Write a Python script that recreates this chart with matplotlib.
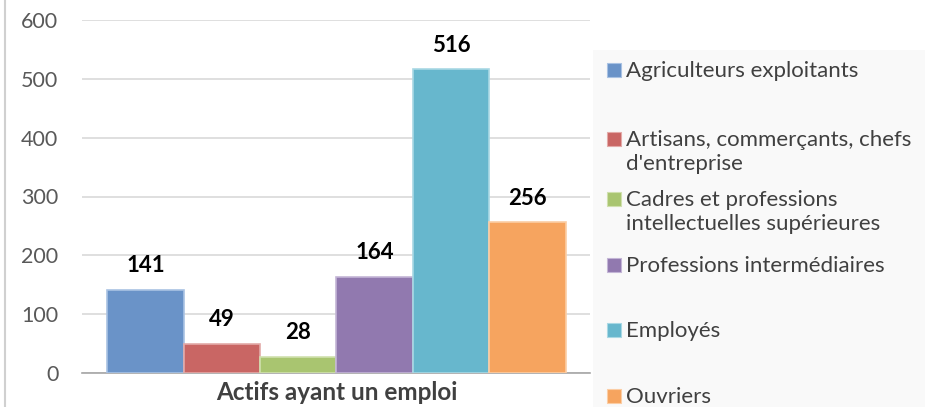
import matplotlib.pyplot as plt
from matplotlib.patches import Rectangle

plt.rcParams['font.family'] = ['Lato', 'DejaVu Sans']

# data
categories = ['Agriculteurs exploitants',
              'Artisans, commerçants, chefs\nd\'entreprise',
              'Cadres et professions\nintellectuelles supérieures',
              'Professions intermédiaires',
              'Employés',
              'Ouvriers']
values = [141, 49, 28, 164, 516, 256]
group_label = 'Actifs ayant un emploi'
yticks = [0, 100, 200, 300, 400, 500, 600]

colors = ['#6a93c8', '#c96664', '#a9c570', '#9179af', '#67b7cd', '#f6a45f']
edges = ['#a9c2e3', '#e3aaa8', '#d0e0ae', '#c3b5d6', '#a9d8e4', '#fbcda4']

W, H = 935, 407
fig = plt.figure(figsize=(W / 100, H / 100), dpi=100)

# axes placed in pixel terms
x0, x1, y0, y1 = 82, 590, 373, 20
ax = fig.add_axes([x0 / W, 1 - y0 / H, (x1 - x0) / W, (y0 - y1) / H])

xs = list(range(len(values)))
ax.bar(xs, values, width=1.0, color=colors, edgecolor=edges, linewidth=1.2, zorder=3)
for x, v in zip(xs, values):
    ax.annotate(str(v), (x, v), xytext=(0, 17.5), textcoords='offset points',
                ha='center', va='center', fontsize=16, fontweight='bold',
                color='black')

ax.set_xlim(-0.83, 5.82)
ax.set_ylim(0, 600)
ax.set_yticks(yticks)
ax.yaxis.grid(True, color='#d9d9d9', linewidth=1.2, zorder=0)
ax.set_axisbelow(True)
for s in ['top', 'right', 'left']:
    ax.spines[s].set_visible(False)
ax.spines['bottom'].set_color('#a6a6a6')
ax.spines['bottom'].set_linewidth(1.2)
ax.tick_params(axis='y', length=0, pad=17, labelsize=15.5, labelcolor='#595959')
ax.set_yticklabels([str(t) for t in yticks], ha='right')
ax.tick_params(axis='x', length=0)
ax.set_xticks([2.5])
ax.set_xticklabels([group_label], fontsize=17.5, fontweight='bold', color='#404040')
ax.tick_params(axis='x', pad=6)

# left border of the chart area
fig.add_artist(plt.Line2D([5 / W, 5 / W], [0, 1], color='#d0d0d0', linewidth=1.5))

# legend panel drawn by hand
fig.add_artist(Rectangle((593 / W, 0), (925 - 593) / W, 1 - 50 / H,
                         transform=fig.transFigure, facecolor='#f9f9f9',
                         edgecolor='none', zorder=0))
legend_y = [70, 139, 199, 265, 330, 396]
for label, c, e, ly in zip(categories, colors, edges, legend_y):
    fig.add_artist(Rectangle((607 / W, 1 - (ly + 7) / H), 14 / W, 14 / H,
                             transform=fig.transFigure, facecolor=c,
                             edgecolor=e, linewidth=0.8))
    for i, line in enumerate(label.split('\n')):
        fig.text(626 / W, 1 - (ly + 7 + 24 * i) / H, line, ha='left', va='baseline',
                 fontsize=16, color='#404040')

fig.savefig('out.png', dpi=100)
